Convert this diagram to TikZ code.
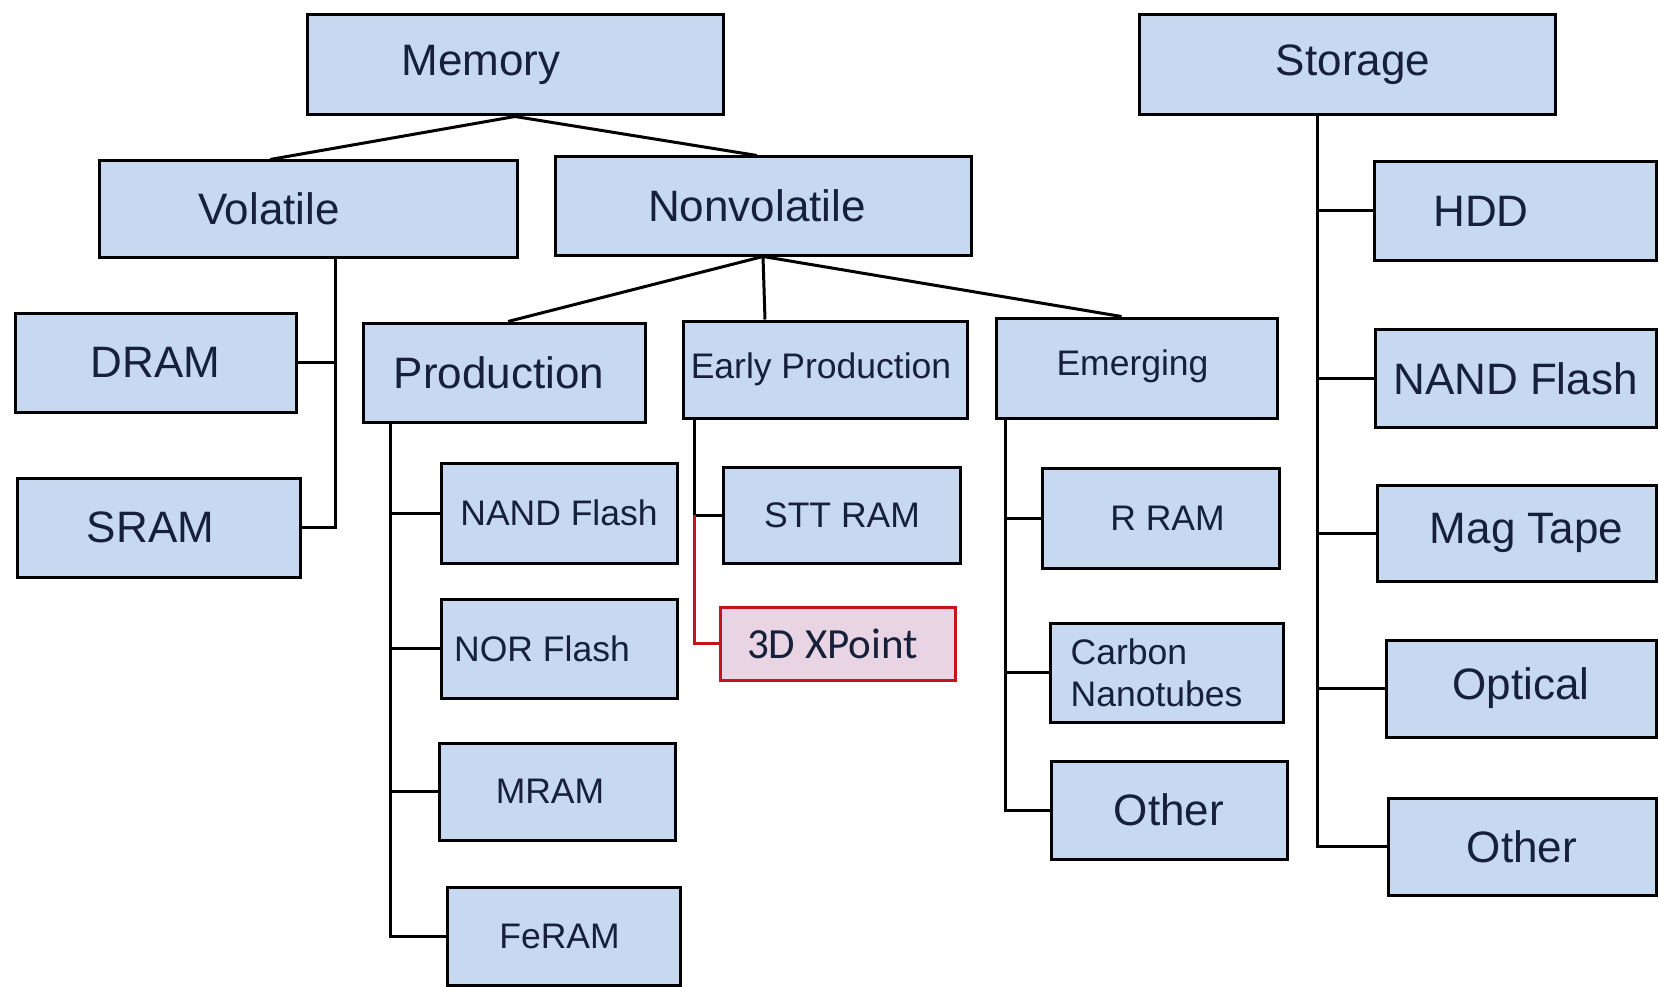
\documentclass[tikz,border=0pt]{standalone}
\usepackage{fontspec}
\setmainfont{Liberation Sans}
\newfontfamily\calfont{Carlito}
\usepackage{tikz}
\usetikzlibrary{positioning, calc}
\definecolor{cellblue}{RGB}{198,217,240}
\definecolor{ink}{RGB}{22,32,58}
\definecolor{newred}{RGB}{196,20,28}
\definecolor{newpink}{RGB}{232,212,226}
\tikzset{
  box/.style 2 args={rectangle, draw=black, fill=cellblue, line width=3pt,
    minimum width=#1, minimum height=#2, inner sep=0pt},
  newbox/.style 2 args={box={#1}{#2}, draw=newred, fill=newpink},
  big/.style={font=\fontsize{44}{50}\selectfont, text=ink, inner sep=0pt},
  small/.style={font=\fontsize{35.5}{42}\selectfont, text=ink, inner sep=0pt},
  link/.style={draw=black, line width=3pt},
  redlink/.style={draw=newred, line width=3pt}
}
\begin{document}
\begin{tikzpicture}[x=1pt, y=-1pt]
  \useasboundingbox[fill=white] (0,0) rectangle (1659,987);

  % Top level
  \node[box={416}{100}, label={[big, xshift=-34pt]center:Memory}] (memory) at (515,65) {};
  \node[box={416}{100}, label={[big, xshift=6pt]center:Storage}] (storage) at (1347,65) {};
  \node[box={418}{96}, label={[big, xshift=-39pt]center:Volatile}] (volatile) at (308,209) {};
  \node[box={416}{98}, label={[big, xshift=-6pt]center:Nonvolatile}] (nonvol) at (763,206) {};

  % Volatile
  \node[box={281}{99}, label={[big]center:DRAM}] (dram) at (155.5,362.5) {};
  \node[box={283}{99}, label={[big, xshift=-8pt]center:SRAM}] (sram) at (158.5,527.5) {};

  % Nonvolatile groups
  \node[box={282}{99}, label={[big, xshift=-5pt]center:Production}] (production) at (504,372.5) {};
  \node[box={284}{97}, label={[small, xshift=-4pt]center:Early Production}] (early) at (825,369.5) {};
  \node[box={281}{100}, label={[small, xshift=-4pt, yshift=2pt]center:Emerging}] (emerging) at (1136.5,368) {};

  % Production
  \node[box={236}{100}, label={[small]center:NAND Flash}] (pnand) at (559,513) {};
  \node[box={236}{99}, label={[small, xshift=-17pt]center:NOR Flash}] (nor) at (559,648.5) {};
  \node[box={236}{97}, label={[small, xshift=-7pt]center:MRAM}] (mram) at (557,791.5) {};
  \node[box={233}{98}, label={[small, xshift=-4pt]center:FeRAM}] (feram) at (563.5,936) {};

  % Early production
  \node[box={237}{96}, label={[small]center:STT RAM}] (stt) at (842,515) {};
  \node[newbox={235}{73}, label={[text=ink, inner sep=0pt, font=\calfont\fontsize{43}{48}\selectfont, xshift=-5pt]center:3D XPoint}] (xpoint) at (837.5,643.5) {};

  % Emerging
  \node[box={237}{100}, label={[small, xshift=7pt]center:R RAM}] (rram) at (1160.5,518) {};
  \node[box={233}{99}, label={[small, align=left, xshift=-10pt]center:Carbon\\Nanotubes}] (carbon) at (1166.5,672.5) {};
  \node[box={236}{98}, label={[big]center:Other}] (eother) at (1169,810) {};

  % Storage
  \node[box={282}{98}, label={[big, xshift=-34pt]center:HDD}] (hdd) at (1515,211) {};
  \node[box={281}{98}, label={[big]center:NAND Flash}] (snand) at (1515.5,378.5) {};
  \node[box={279}{96}, label={[big, xshift=10pt]center:Mag Tape}] (tape) at (1516.5,533) {};
  \node[box={270}{97}, label={[big]center:Optical}] (optical) at (1521,688.5) {};
  \node[box={268}{97}, label={[big]center:Other}] (sother) at (1522,846.5) {};

  % Tree links
  \draw[link] (memory.south) -- ([xshift=-38pt]volatile.north);
  \draw[link] (memory.south) -- ([xshift=-6pt]nonvol.north);
  \draw[link] (nonvol.south) -- ([xshift=4pt]production.north);
  \draw[link] (nonvol.south) -- ([xshift=-60pt]early.north);
  \draw[link] (nonvol.south) -- ([xshift=-15pt]emerging.north);

  % Trunks
  \coordinate (vtrunk) at ([xshift=27pt]volatile.south);
  \coordinate (ptrunk) at ([xshift=-114pt]production.south);
  \coordinate (etrunk) at ([xshift=-131pt]early.south);
  \coordinate (mtrunk) at ([xshift=-131.5pt]emerging.south);
  \coordinate (strunk) at ([xshift=-29.5pt]storage.south);

  \draw[link] (vtrunk) |- (sram.east);
  \draw[link] (dram.east) -- (dram.east -| vtrunk);

  \draw[link] (ptrunk) |- (feram.west);
  \foreach \leaf in {pnand, nor, mram}
    \draw[link] (\leaf.west) -- (\leaf.west -| ptrunk);

  \draw[link] (etrunk) |- (stt.west);
  \draw[redlink] (etrunk |- stt.west) |- (xpoint.west);

  \draw[link] (mtrunk) |- (eother.west);
  \foreach \leaf in {rram, carbon}
    \draw[link] (\leaf.west) -- (\leaf.west -| mtrunk);

  \draw[link] (strunk) |- (sother.west);
  \foreach \leaf in {hdd, snand, tape, optical}
    \draw[link] (\leaf.west) -- (\leaf.west -| strunk);
\end{tikzpicture}
\end{document}
